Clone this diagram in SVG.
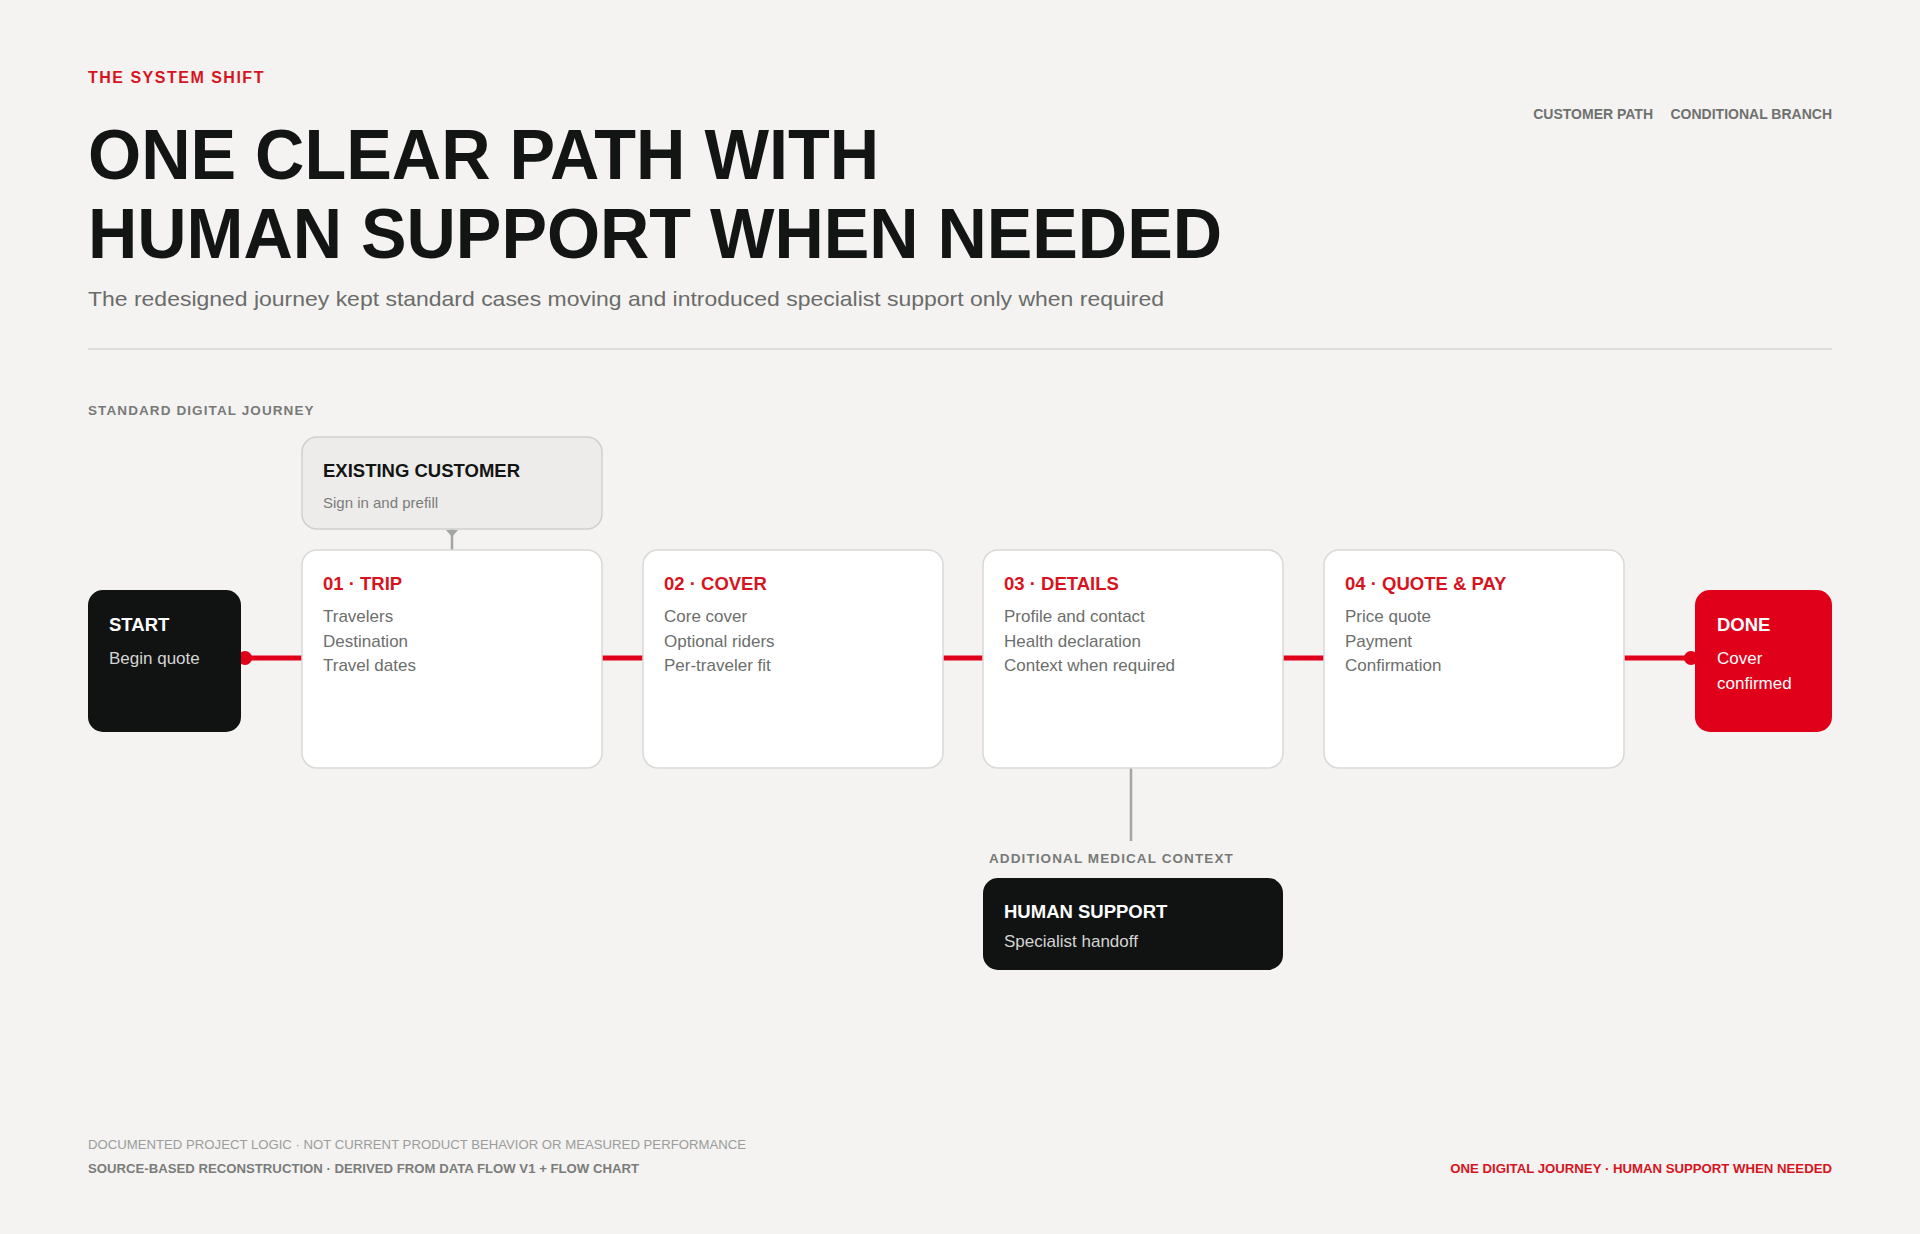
<svg xmlns="http://www.w3.org/2000/svg" width="1920" height="1234" viewBox="0 0 1920 1234">
<style>
text{font-family:"Liberation Sans",Arial,sans-serif}
.eyebrow{font-size:16px;font-weight:700;fill:#d7141e;letter-spacing:1.5px}
.title{font-size:71px;font-weight:700;fill:#131514}
.sub{font-size:21px;fill:#6a6c6a}
.legend{font-size:14px;font-weight:700;fill:#6f716f}
.section{font-size:13.5px;font-weight:700;fill:#787a78;letter-spacing:1.1px}
.card{fill:#ffffff;stroke:#d9d9d6;stroke-width:1.5}
.soft{fill:#edecea;stroke:#cfcfcc;stroke-width:1.5}
.dark{fill:#111312}
.red{fill:#e0001a}
.h{font-size:18.5px;font-weight:700}
.hr{font-size:18.5px;font-weight:700;fill:#d7141e}
.b{font-size:17px;fill:#6c6e6c}
.wh{fill:#ffffff}
.lt{fill:#d4d4d2}
.path{stroke:#e0001a;stroke-width:5;fill:none}
.branch{stroke:#a3a6a3;stroke-width:2.5;fill:none}
.foot1{font-size:13px;fill:#9b9c9b}
.foot2{font-size:13px;font-weight:700;fill:#7a7c7a}
.foot3{font-size:13.2px;font-weight:700;fill:#d7141e}
</style>
<rect width="1920" height="1234" fill="#f4f3f1"/>
<text class="eyebrow" x="88" y="83">THE SYSTEM SHIFT</text>
<text class="title" x="88" y="179" textLength="791" lengthAdjust="spacingAndGlyphs">ONE CLEAR PATH WITH</text>
<text class="title" x="88" y="258" textLength="1134" lengthAdjust="spacingAndGlyphs">HUMAN SUPPORT WHEN NEEDED</text>
<text class="sub" x="88" y="306" textLength="1076" lengthAdjust="spacingAndGlyphs">The redesigned journey kept standard cases moving and introduced specialist support only when required</text>
<text class="legend" x="1653" y="119" text-anchor="end">CUSTOMER PATH</text>
<text class="legend" x="1832" y="119" text-anchor="end">CONDITIONAL BRANCH</text>
<line x1="88" y1="349" x2="1832" y2="349" stroke="#dcdcd9" stroke-width="2"/>
<text class="section" x="88" y="415">STANDARD DIGITAL JOURNEY</text>

<g id="connectors">
<line class="path" x1="241" y1="658" x2="302" y2="658"/>
<line class="path" x1="602" y1="658" x2="643" y2="658"/>
<line class="path" x1="943" y1="658" x2="983" y2="658"/>
<line class="path" x1="1283" y1="658" x2="1324" y2="658"/>
<line class="path" x1="1624" y1="658" x2="1695" y2="658"/>
<circle cx="245" cy="658" r="7" fill="#e0001a"/>
<circle cx="1691" cy="658" r="7" fill="#e0001a"/>
<line class="branch" x1="452" y1="529" x2="452" y2="550"/>
<polygon points="446,530 458,530 452,537" fill="#a3a6a3"/>
<line class="branch" x1="1131" y1="768" x2="1131" y2="841"/>
</g>

<g id="start">
<rect class="dark" x="88" y="590" width="153" height="142" rx="15"/>
<text class="h wh" x="109" y="631">START</text>
<text class="b lt" x="109" y="664">Begin quote</text>
</g>

<g id="existing">
<rect class="soft" x="302" y="437" width="300" height="92" rx="15"/>
<text class="h" x="323" y="477" fill="#131514">EXISTING CUSTOMER</text>
<text x="323" y="508" font-size="15" fill="#7a7c7a">Sign in and prefill</text>
</g>

<g id="trip">
<rect class="card" x="302" y="550" width="300" height="218" rx="15"/>
<text class="hr" x="323" y="590">01 · TRIP</text>
<text class="b" x="323" y="622">Travelers</text>
<text class="b" x="323" y="647">Destination</text>
<text class="b" x="323" y="671">Travel dates</text>
</g>

<g id="cover">
<rect class="card" x="643" y="550" width="300" height="218" rx="15"/>
<text class="hr" x="664" y="590">02 · COVER</text>
<text class="b" x="664" y="622">Core cover</text>
<text class="b" x="664" y="647">Optional riders</text>
<text class="b" x="664" y="671">Per-traveler fit</text>
</g>

<g id="details">
<rect class="card" x="983" y="550" width="300" height="218" rx="15"/>
<text class="hr" x="1004" y="590">03 · DETAILS</text>
<text class="b" x="1004" y="622">Profile and contact</text>
<text class="b" x="1004" y="647">Health declaration</text>
<text class="b" x="1004" y="671">Context when required</text>
</g>

<g id="quote">
<rect class="card" x="1324" y="550" width="300" height="218" rx="15"/>
<text class="hr" x="1345" y="590">04 · QUOTE &amp; PAY</text>
<text class="b" x="1345" y="622">Price quote</text>
<text class="b" x="1345" y="647">Payment</text>
<text class="b" x="1345" y="671">Confirmation</text>
</g>

<g id="done">
<rect class="red" x="1695" y="590" width="137" height="142" rx="15"/>
<text class="h wh" x="1717" y="631">DONE</text>
<text class="b wh" x="1717" y="664">Cover</text>
<text class="b wh" x="1717" y="689">confirmed</text>
</g>

<text class="section" x="989" y="863">ADDITIONAL MEDICAL CONTEXT</text>
<g id="human">
<rect class="dark" x="983" y="878" width="300" height="92" rx="15"/>
<text class="h wh" x="1004" y="918">HUMAN SUPPORT</text>
<text class="b lt" x="1004" y="947">Specialist handoff</text>
</g>

<text class="foot1" x="88" y="1149" textLength="658" lengthAdjust="spacingAndGlyphs">DOCUMENTED PROJECT LOGIC · NOT CURRENT PRODUCT BEHAVIOR OR MEASURED PERFORMANCE</text>
<text class="foot2" x="88" y="1173" textLength="551" lengthAdjust="spacingAndGlyphs">SOURCE-BASED RECONSTRUCTION · DERIVED FROM DATA FLOW V1 + FLOW CHART</text>
<text class="foot3" x="1832" y="1173" text-anchor="end">ONE DIGITAL JOURNEY · HUMAN SUPPORT WHEN NEEDED</text>
</svg>
